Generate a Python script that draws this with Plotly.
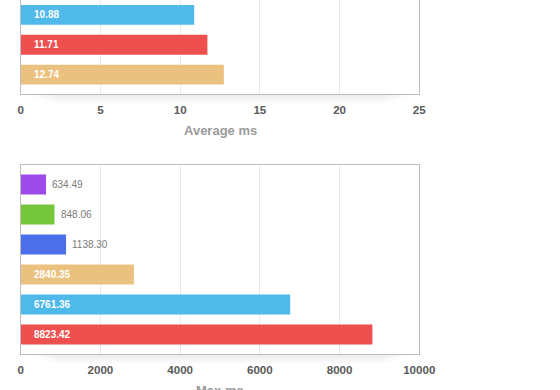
import plotly.graph_objects as go

# ---------------- data ----------------
avg_labels = ["Lib C", "Lib D", "Lib E"]
avg_values = [10.88, 11.71, 12.74]
avg_colors = ["#4fb9ea", "#ee4f4f", "#ebc17f"]
avg_ticks = [0, 5, 10, 15, 20, 25]

max_labels = ["Lib A", "Lib B", "Lib F", "Lib E", "Lib C", "Lib D"]
max_values = [634.49, 848.06, 1138.30, 2840.35, 6761.36, 8823.42]
max_colors = ["#9c4ae9", "#76c63b", "#4b6fe9", "#ebc17f", "#4fb9ea", "#ee4f4f"]
max_ticks = [0, 2000, 4000, 6000, 8000, 10000]

W, H = 560, 390
FONT = "Helvetica Neue, Helvetica, Liberation Sans, Arial, sans-serif"

def py(px):
    return 1 - px / H

x0, x1 = 20.7 / W, 419.3 / W

fig = go.Figure()
fig.add_trace(go.Bar(x=avg_values, y=avg_labels, orientation="h",
                     marker=dict(color=avg_colors, line=dict(width=0)),
                     xaxis="x", yaxis="y", hoverinfo="x"))
fig.add_trace(go.Bar(x=max_values, y=max_labels, orientation="h",
                     marker=dict(color=max_colors, line=dict(width=0)),
                     xaxis="x2", yaxis="y2", hoverinfo="x"))

tickfont = dict(family=FONT, size=11.6, color="#5a5a5a", weight="bold")
common_x = dict(showgrid=True, gridcolor="#e9e9e9", gridwidth=1, zeroline=False,
                showline=True, linecolor="#bdbdbd", linewidth=1, ticks="",
                tickfont=tickfont, ticklabelstandoff=5, fixedrange=True,
                automargin=False)
common_y = dict(showgrid=False, zeroline=False, showline=True, linecolor="#bdbdbd",
                linewidth=1, mirror=True, showticklabels=False, ticks="", fixedrange=True,
                automargin=False)

annotations = []

def bar_labels(labels, values, axmax, xref, yref):
    for lab, v in zip(labels, values):
        if v / axmax > 0.2:
            annotations.append(dict(x=0, y=lab, xref=xref, yref=yref, text=f"{v:.2f}",
                                    xanchor="left", yanchor="middle", xshift=11,
                                    showarrow=False,
                                    font=dict(family=FONT, size=10, color="white", weight="bold")))
        else:
            annotations.append(dict(x=v, y=lab, xref=xref, yref=yref, text=f"{v:.2f}",
                                    xanchor="left", yanchor="middle", xshift=4,
                                    showarrow=False,
                                    font=dict(family=FONT, size=10, color="#7a7a7a")))

bar_labels(avg_labels, avg_values, avg_ticks[-1], "x", "y")
bar_labels(max_labels, max_values, max_ticks[-1], "x2", "y2")

annotations.append(dict(x=(x0 + x1) / 2, y=py(130.5), xref="paper", yref="paper",
                        text="Average ms", showarrow=False, xanchor="center", yanchor="middle",
                        font=dict(family=FONT, size=13, color="#9a9a9a", weight="bold")))
annotations.append(dict(x=(x0 + x1) / 2, y=py(390.5), xref="paper", yref="paper",
                        text="Max ms", showarrow=False, xanchor="center", yanchor="middle",
                        font=dict(family=FONT, size=13, color="#9a9a9a", weight="bold")))

# soft shadow under each chart box
shapes = []
for border in (94.5, 354.5):
    for k in range(1, 7):
        inset = (k * 6) / W
        shapes.append(dict(type="rect", xref="paper", yref="paper", layer="below",
                           x0=x0 + inset, x1=x1 - inset,
                           y0=py(border + k * 1.6), y1=py(border),
                           fillcolor="rgba(0,0,0,0.012)", line=dict(width=0)))

fig.update_layout(
    template="none",
    width=W, height=H, autosize=False,
    margin=dict(l=0, r=0, t=0, b=0, pad=0, autoexpand=False),
    paper_bgcolor="white", plot_bgcolor="white",
    showlegend=False, bargap=1/3,
    xaxis=dict(domain=[x0, x1], anchor="y", range=[0, avg_ticks[-1]],
               tickvals=avg_ticks, ticktext=[str(t) for t in avg_ticks],
               mirror=False, **common_x),
    yaxis=dict(domain=[py(94), 1], anchor="x", range=[len(avg_labels) - 1 + 0.65, -0.5],
               **common_y),
    xaxis2=dict(domain=[x0, x1], anchor="y2", range=[0, max_ticks[-1]],
                tickvals=max_ticks, ticktext=[str(t) for t in max_ticks],
                mirror=True, **common_x),
    yaxis2=dict(domain=[py(354), py(165)], anchor="x2",
                range=[len(max_labels) - 1 + 0.65, -0.65], **common_y),
    annotations=annotations,
    shapes=shapes,
)

fig.write_html("out.html",
               config={"displayModeBar": False, "responsive": False},
               post_script="document.body.style.margin='0';document.body.style.overflow='hidden';")
